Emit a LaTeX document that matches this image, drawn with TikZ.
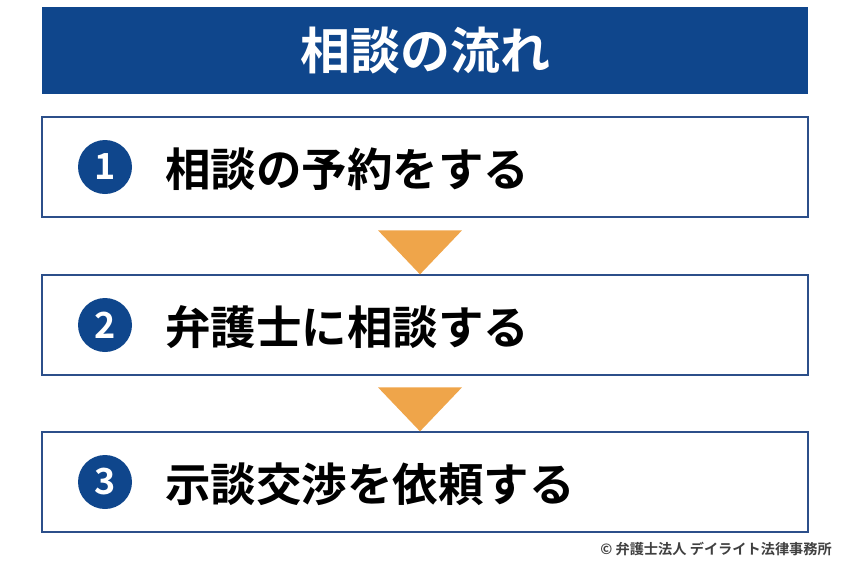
\documentclass[tikz,border=0pt]{standalone}
\usepackage{fontspec}
\newfontfamily\jp{Noto Sans CJK JP}[BoldFont={Noto Sans CJK JP Bold}]
\usetikzlibrary{positioning}
\definecolor{navy}{HTML}{0F468C}
\definecolor{boxline}{HTML}{2C4F8A}
\definecolor{arroworange}{HTML}{EFA54A}
\tikzset{
    titlebox/.style={fill=navy, text=white, minimum width=766pt, minimum height=87pt,
        inner sep=0pt, font=\jp\bfseries\fontsize{50}{54}\selectfont},
    stepbox/.style={draw=boxline, line width=1.3pt, fill=white, minimum width=766pt,
        minimum height=100pt, inner sep=0pt},
    numdot/.style={circle, fill=navy, text=white, minimum size=54pt, inner sep=0pt,
        font=\jp\bfseries\fontsize{36}{38}\selectfont},
    steptext/.style={anchor=west, inner sep=0pt, font=\jp\bfseries\fontsize{45.5}{48}\selectfont},
    downarrow/.style={fill=arroworange}
}
\begin{document}
\begin{tikzpicture}[x=1pt,y=-1pt]
        \useasboundingbox (0,0) rectangle (850,568);
        % タイトル
        \node[titlebox] (title) at (425,50.5) {相談の流れ};

        % ステップの枠
        \node[stepbox] (step1) at (425,167) {};
        \node[stepbox] (step2) at (425,325) {};
        \node[stepbox] (step3) at (425,482) {};

        % 番号と文字
        \node[numdot] (num1) at (105,167) {1};
        \node[steptext] (text1) at (165,169) {相談の予約をする};
        \node[numdot] (num2) at (105,325) {2};
        \node[steptext] (text2) at (165,327) {弁護士に相談する};
        \node[numdot] (num3) at (105,482) {3};
        \node[steptext] (text3) at (165,484) {示談交渉を依頼する};

        % 下向きの三角
        \fill[downarrow] ([xshift=-47pt,yshift=44pt]step2.north) -- ([xshift=37pt,yshift=44pt]step2.north)
            -- ([xshift=-5pt]step2.north) -- cycle;
        \fill[downarrow] ([xshift=-47pt,yshift=44pt]step3.north) -- ([xshift=37pt,yshift=44pt]step3.north)
            -- ([xshift=-5pt]step3.north) -- cycle;

        % クレジット
        \node[anchor=east, inner sep=0pt, font=\jp\bfseries\fontsize{14.2}{16}\selectfont, text=black!75]
            (credit) at (832,549) {© 弁護士法人 デイライト法律事務所};
    \end{tikzpicture}
\end{document}
